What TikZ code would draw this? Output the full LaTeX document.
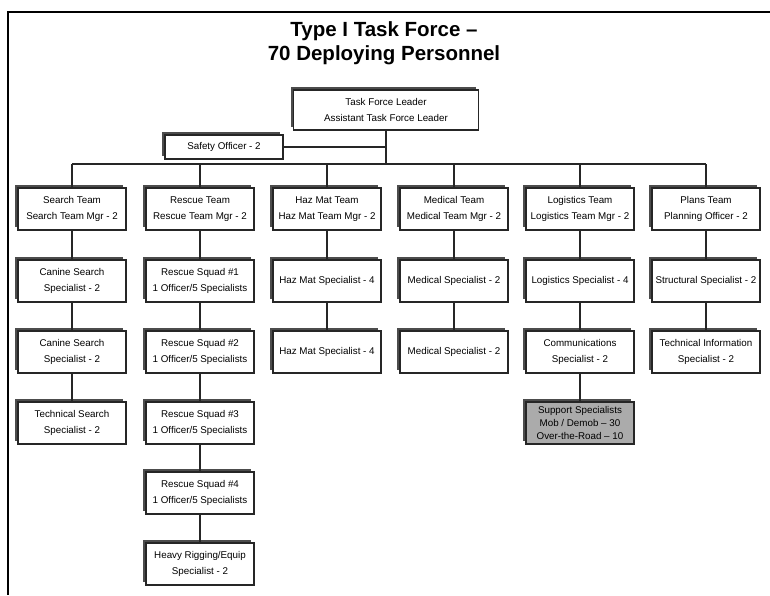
\documentclass[tikz,border=0pt]{standalone}
\usepackage{fontspec}
\setmainfont{Liberation Sans}
\usetikzlibrary{shadows}

\tikzset{
    box/.style={draw=black!85, line width=1.5pt, fill=white, minimum width=108pt,
        minimum height=42pt, inner sep=0pt, align=center,
        font=\fontsize{9.8}{16}\selectfont,
        drop shadow={shadow xshift=-3pt, shadow yshift=3pt, fill=black!70, opacity=1}},
    link/.style={line width=1.3pt, draw=black!85},
}

\begin{document}
\begin{tikzpicture}[x=1pt, y=-1pt]
    \useasboundingbox (0,0) rectangle (770,595);
    % Frame
    \draw[line width=2pt] (770,12) -- (8,12) -- (8,595);
    % Title
    \node[align=center, font=\bfseries\fontsize{20.5}{24}\selectfont] (title) at (384,43)
        {Type I Task Force --\\70 Deploying Personnel};

    % Leader and safety
    \node[box, minimum width=185pt, minimum height=40pt] (leader) at (386,110)
        {Task Force Leader\\Assistant Task Force Leader};
    \node[box, minimum width=118pt, minimum height=24pt] (safety) at (224,147)
        {Safety Officer - 2};
    \coordinate (bar) at (0,164);

    % Team heads
    \node[box] (search) at (72,209) {Search Team\\Search Team Mgr - 2};
    \node[box] (rescue) at (200,209) {Rescue Team\\Rescue Team Mgr - 2};
    \node[box] (hazmat) at (327,209) {Haz Mat Team\\Haz Mat Team Mgr - 2};
    \node[box] (medical) at (454,209) {Medical Team\\Medical Team Mgr - 2};
    \node[box] (logistics) at (580,209) {Logistics Team\\Logistics Team Mgr - 2};
    \node[box] (plans) at (706,209) {Plans Team\\Planning Officer - 2};

    % Search column
    \node[box] (canineA) at (72,281) {Canine Search\\Specialist - 2};
    \node[box] (canineB) at (72,352) {Canine Search\\Specialist - 2};
    \node[box] (techsearch) at (72,423) {Technical Search\\Specialist - 2};
    % Rescue column
    \node[box] (squadA) at (200,281) {Rescue Squad \#1\\1 Officer/5 Specialists};
    \node[box] (squadB) at (200,352) {Rescue Squad \#2\\1 Officer/5 Specialists};
    \node[box] (squadC) at (200,423) {Rescue Squad \#3\\1 Officer/5 Specialists};
    \node[box] (squadD) at (200,493) {Rescue Squad \#4\\1 Officer/5 Specialists};
    \node[box] (rigging) at (200,564) {Heavy Rigging/Equip\\Specialist - 2};
    % Haz Mat column
    \node[box] (hazA) at (327,281) {Haz Mat Specialist - 4};
    \node[box] (hazB) at (327,352) {Haz Mat Specialist - 4};
    % Medical column
    \node[box] (medA) at (454,281) {Medical Specialist - 2};
    \node[box] (medB) at (454,352) {Medical Specialist - 2};
    % Logistics column
    \node[box] (logA) at (580,281) {Logistics Specialist - 4};
    \node[box] (comms) at (580,352) {Communications\\Specialist - 2};
    \node[box, fill=black!33, font=\fontsize{9.8}{13}\selectfont] (support) at (580,423)
        {Support Specialists\\Mob / Demob -- 30\\Over-the-Road -- 10};
    % Plans column
    \node[box] (structural) at (706,281) {Structural Specialist - 2};
    \node[box] (techinfo) at (706,352) {Technical Information\\Specialist - 2};

    % Connectors
    \draw[link] (leader.south) -- (leader.south |- bar);
    \draw[link] (safety.east) -- (safety.east -| leader.south);
    \draw[link] (search.north |- bar) -- (plans.north |- bar);
    \foreach \h in {search,rescue,hazmat,medical,logistics,plans}
    {
        \draw[link] (\h.north) -- (\h.north |- bar);
    }
    \foreach \a/\b in {search/canineA, canineA/canineB, canineB/techsearch,
        rescue/squadA, squadA/squadB, squadB/squadC, squadC/squadD, squadD/rigging,
        hazmat/hazA, hazA/hazB, medical/medA, medA/medB,
        logistics/logA, logA/comms, comms/support, plans/structural, structural/techinfo}
    {
        \draw[link] (\a.south) -- (\b.north);
    }
\end{tikzpicture}
\end{document}
